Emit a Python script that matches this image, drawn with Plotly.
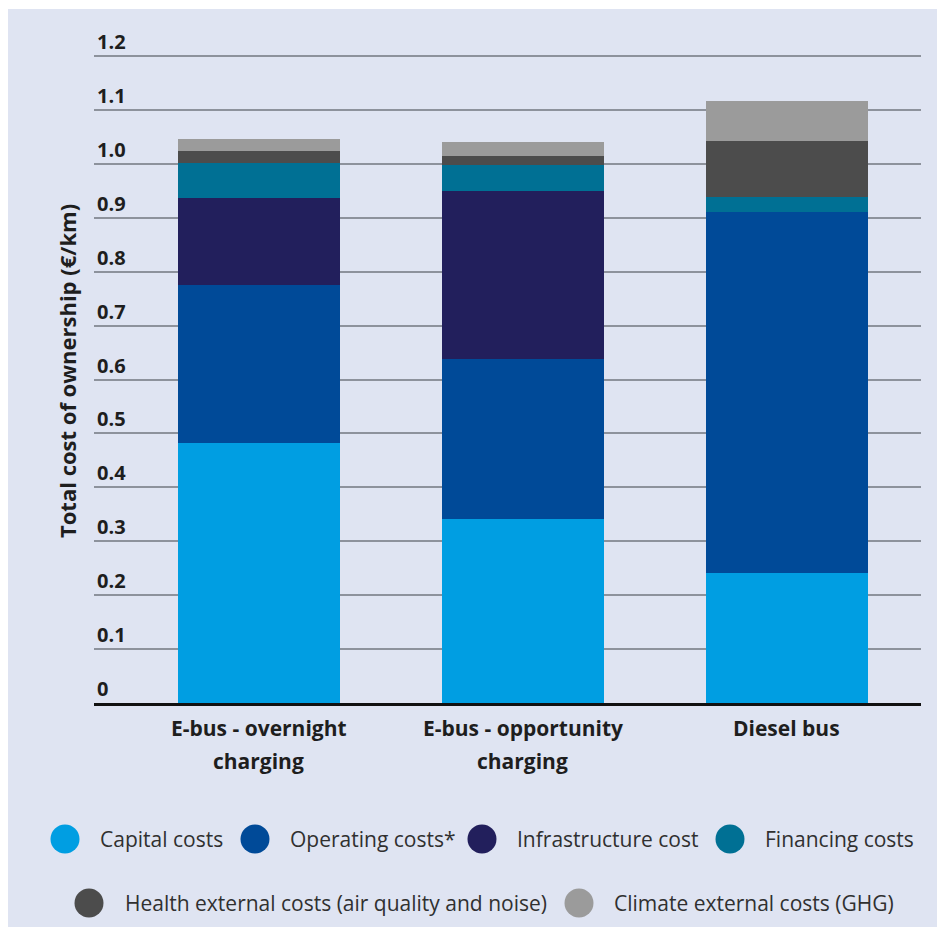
import plotly.graph_objects as go

# Total cost of ownership per bus type (EUR/km), stacked by cost component
categories = ["E-bus - overnight charging", "E-bus - opportunity charging", "Diesel bus"]
tick_lines = [["E-bus - overnight", "charging"], ["E-bus - opportunity", "charging"], ["Diesel bus"]]

capital = [0.482, 0.341, 0.241]
operating = [0.293, 0.297, 0.670]
infrastructure = [0.161, 0.312, 0.0]
financing = [0.066, 0.047, 0.028]
health = [0.021, 0.018, 0.104]
climate = [0.023, 0.025, 0.074]

series_names = [
    "Capital costs",
    "Operating costs*",
    "Infrastructure cost",
    "Financing costs",
    "Health external costs (air quality and noise)",
    "Climate external costs (GHG)",
]
series_values = [capital, operating, infrastructure, financing, health, climate]
series_colors = ["#009ee2", "#004a98", "#221f5c", "#007094", "#4c4c4c", "#9b9b9b"]

y_ticks = [0, 0.1, 0.2, 0.3, 0.4, 0.5, 0.6, 0.7, 0.8, 0.9, 1.0, 1.1, 1.2]
y_tick_text = ["0", "0.1", "0.2", "0.3", "0.4", "0.5", "0.6", "0.7", "0.8", "0.9", "1.0", "1.1", "1.2"]

# page geometry (pixels)
W, H = 937, 927
ML, MR, MT, MB = 94, 16, 20, 224
PW, PH = W - ML - MR, H - MT - MB
Y_TOP = 1.2 * PH / (H - MB - 56)

PANEL = "#dfe4f2"
FONT = "Open Sans"
TEXT_DARK = "#1e1e1e"
TEXT_LEG = "#303030"


def px_x(px):
    return (px - ML) / PW


def px_y(py):
    return (H - MB - py) / PH


fig = go.Figure()
for name, vals, color in zip(series_names, series_values, series_colors):
    fig.add_trace(go.Bar(
        x=categories, y=vals, name=name, width=0.614,
        marker=dict(color=color, line=dict(width=0)),
        showlegend=False,
    ))

shapes = [dict(type="rect", xref="paper", yref="paper",
               x0=px_x(8), x1=px_x(W + 2), y0=px_y(9), y1=px_y(H + 2),
               fillcolor=PANEL, line=dict(width=0), layer="below")]
annotations = []

# category labels below the axis, two lines each
for cat, lines in zip(categories, tick_lines):
    for i, line in enumerate(lines):
        annotations.append(dict(
            x=cat, xref="x", y=px_y(728 + 33 * i), yref="paper",
            text=f"<b>{line}</b>", showarrow=False, xanchor="center", yanchor="middle",
            font=dict(family=FONT, size=21, color=TEXT_DARK),
        ))

# axis title
annotations.append(dict(
    x=px_x(67), xref="paper", y=px_y(371), yref="paper",
    text="<b>Total cost of ownership (€/km)</b>", textangle=-90, showarrow=False,
    xanchor="center", yanchor="middle",
    font=dict(family=FONT, size=22, color=TEXT_DARK),
))

# legend: circle swatches with labels
legend_items = [
    (65, 839, 98), (255, 839, 288), (482, 839, 515), (730, 839, 763),
    (89, 903, 123), (579, 903, 612),
]
for (cx, cy, tx), name, color in zip(legend_items, series_names, series_colors):
    shapes.append(dict(
        type="circle", xref="paper", yref="paper",
        xsizemode="pixel", ysizemode="pixel",
        xanchor=px_x(cx), yanchor=px_y(cy),
        x0=-14.5, x1=14.5, y0=-14.5, y1=14.5,
        fillcolor=color, line=dict(width=0),
    ))
    annotations.append(dict(
        x=px_x(tx), xref="paper", y=px_y(cy), yref="paper",
        text=name, showarrow=False,
        xanchor="left", yanchor="middle",
        font=dict(family=FONT, size=21, color=TEXT_LEG),
    ))

fig.update_layout(
    width=W, height=H,
    margin=dict(l=ML, r=MR, t=MT, b=MB, pad=0),
    paper_bgcolor="white", plot_bgcolor="rgba(0,0,0,0)",
    barmode="stack", bargap=0,
    showlegend=False,
    font=dict(family=FONT, color=TEXT_DARK),
    shapes=shapes, annotations=annotations,
    xaxis=dict(
        type="category", categoryorder="array", categoryarray=categories,
        range=[-0.625, 2.508], showticklabels=False, ticks="",
        showgrid=False, zeroline=False,
        showline=True, linecolor="#111111", linewidth=3,
        fixedrange=True,
    ),
    yaxis=dict(
        range=[0, Y_TOP], tickvals=y_ticks, ticktext=y_tick_text,
        ticklabelposition="inside top", ticks="",
        tickfont=dict(family=FONT, size=20, color=TEXT_DARK, weight="bold"),
        showgrid=True, gridcolor="#8d929c", gridwidth=1.5,
        zeroline=False, showline=False, fixedrange=True,
    ),
)

fig.write_html("out.html")
